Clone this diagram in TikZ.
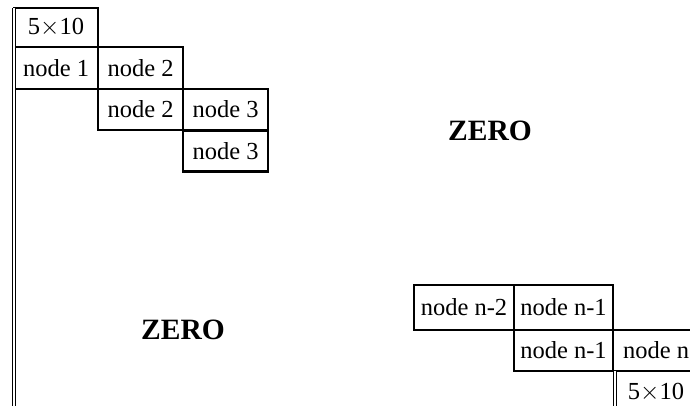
\documentclass[tikz,border=0pt]{standalone}
\usepackage{fontspec}
\setmainfont{Liberation Serif}
\usepackage{tikz}
\usetikzlibrary{positioning}

\begin{document}
\begin{tikzpicture}[
    x=1pt, y=-1pt,
    cell/.style={draw, line width=2.8pt, inner sep=0pt, minimum height=41pt, minimum width=85pt, font=\fontsize{24.5pt}{28pt}\selectfont},
    label/.style={inner sep=0pt, font=\fontsize{24.5pt}{28pt}\selectfont},
    zero/.style={inner sep=0pt, font=\fontsize{29.5pt}{32pt}\selectfont\bfseries},
    rail/.style={double, line width=1.3pt, double distance=1.7pt}
]
    \useasboundingbox (0,0) rectangle (690,406);

    % --- top left block ---
    \node[cell, minimum width=84pt, minimum height=39pt] (topdim) at (56,27.5) {5$\times$10};
    \node[cell, minimum width=84pt, minimum height=42pt] (one) at (56,68) {node 1};
    \node[cell, minimum height=42pt] (twoa) at (140.5,68) {node 2};
    \node[cell] (twob) at (140.5,109.5) {node 2};
    \node[cell] (threea) at (225.5,109.5) {node 3};
    \node[cell] (threeb) at (225.5,151) {node 3};

    \coordinate (railtop) at (14,8);
    \coordinate (railbot) at (14,410);
    \draw[rail] (railtop) -- (railbot);

    % --- zero parts ---
    \node[zero] (zeroup) at (490,131) {ZERO};
    \node[zero] (zerolow) at (183,330) {ZERO};

    % --- bottom right block ---
    \node[cell, minimum width=100pt, minimum height=45pt] (nmtwo) at (464,307.5) {node n-2};
    \node[cell, minimum width=99pt, minimum height=45pt] (nmonea) at (563.5,307.5) {node n-1};
    \node[cell, minimum width=99pt] (nmoneb) at (563.5,350.5) {node n-1};
    \node[cell, minimum width=86pt] (nlast) at (656,350.5) {node n};
    \node[label] (botdim) at (656,392) {5$\times$10};

    \coordinate (railtwotop) at (615,371);
    \coordinate (railtwobot) at (615,410);
    \draw[rail] (railtwotop) -- (railtwobot);

\end{tikzpicture}
\end{document}
